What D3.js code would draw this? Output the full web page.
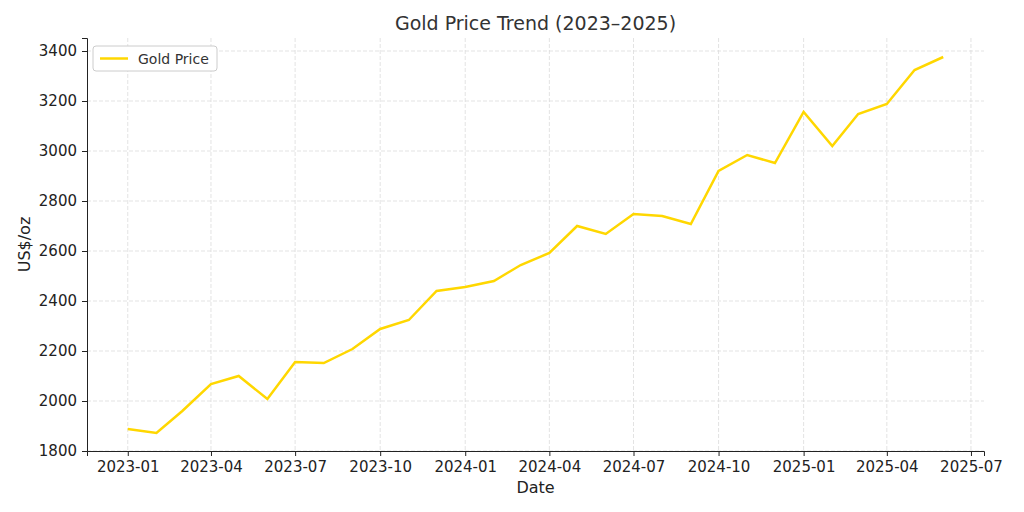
<!DOCTYPE html>
<html>
<head>
<meta charset="utf-8">
<script src="https://cdn.jsdelivr.net/npm/d3@7"></script>
<style>
  body { margin: 0; background: #fff; }
  text { font-family: "DejaVu Sans", sans-serif; }
</style>
</head>
<body>
<svg id="chart" width="1024" height="512"></svg>
<script>
// data
const months = ["2023-01","2023-02","2023-03","2023-04","2023-05","2023-06","2023-07","2023-08","2023-09","2023-10","2023-11","2023-12",
  "2024-01","2024-02","2024-03","2024-04","2024-05","2024-06","2024-07","2024-08","2024-09","2024-10","2024-11","2024-12",
  "2025-01","2025-02","2025-03","2025-04","2025-05","2025-06"];
const prices = [1888,1872,1960,2068,2100,2008,2156,2152,2208,2288,2324,2440,
  2456,2480,2544,2592,2700,2668,2748,2740,2708,2920,2984,2952,
  3156,3020,3148,3188,3324,3376];
const xTicks = ["2023-01","2023-04","2023-07","2023-10","2024-01","2024-04","2024-07","2024-10","2025-01","2025-04","2025-07"];
const yTicks = [1800,2000,2200,2400,2600,2800,3000,3200,3400];

const parse = d3.timeParse("%Y-%m");
const data = months.map((m, i) => ({ date: parse(m), value: prices[i] }));

const mLeft = 87, mRight = 984, mTop = 38, mBottom = 451;
const svg = d3.select("#chart");

// matplotlib-style 5% margin on the x extent
const t0 = data[0].date.getTime(), t1 = data[data.length - 1].date.getTime();
const pad = (t1 - t0) * 0.05;
const x = d3.scaleTime().domain([new Date(t0 - pad), new Date(t1 + pad)]).range([mLeft, mRight]);
const y = d3.scaleLinear().domain([1800, 3452]).range([mBottom, mTop]);

// grid
svg.append("g").selectAll("line").data(xTicks).enter().append("line")
   .attr("x1", d => x(parse(d))).attr("x2", d => x(parse(d)))
   .attr("y1", mTop).attr("y2", mBottom)
   .attr("stroke", "#dcdcdc").attr("stroke-dasharray", "4,2").attr("stroke-width", 0.8);
svg.append("g").selectAll("line").data(yTicks).enter().append("line")
   .attr("x1", mLeft).attr("x2", mRight)
   .attr("y1", d => y(d)).attr("y2", d => y(d))
   .attr("stroke", "#dcdcdc").attr("stroke-dasharray", "4,2").attr("stroke-width", 0.8);

// axes
const xAxis = svg.append("g")
   .attr("transform", `translate(0,${mBottom})`)
   .call(d3.axisBottom(x).tickValues(xTicks.map(parse)).tickFormat(d3.timeFormat("%Y-%m")).tickSizeOuter(0).tickSize(5).tickPadding(5));
const yAxis = svg.append("g")
   .attr("transform", `translate(${mLeft},0)`)
   .call(d3.axisLeft(y).tickValues(yTicks).tickFormat(d3.format("d")).tickSizeOuter(0).tickSize(5).tickPadding(5));
[xAxis, yAxis].forEach(a => {
  a.selectAll("text").attr("font-size", 15).attr("fill", "#222");
  a.selectAll("line,path").attr("stroke", "#222");
});

// line
svg.append("path")
   .datum(data)
   .attr("fill", "none")
   .attr("stroke", "#FFD700")
   .attr("stroke-width", 2.5)
   .attr("d", d3.line().x(d => x(d.date)).y(d => y(d.value)));

// titles
svg.append("text").attr("x", (mLeft + mRight) / 2).attr("y", 30).attr("text-anchor", "middle")
   .attr("font-size", 19).attr("fill", "#333").text("Gold Price Trend (2023–2025)");
svg.append("text").attr("x", (mLeft + mRight) / 2).attr("y", 493).attr("text-anchor", "middle")
   .attr("font-size", 16).attr("fill", "#222").text("Date");
svg.append("text").attr("transform", `translate(30,${(mTop + mBottom) / 2}) rotate(-90)`).attr("text-anchor", "middle")
   .attr("font-size", 16).attr("fill", "#222").text("US$/oz");

// legend
const lg = svg.append("g").attr("transform", "translate(93,46)");
lg.append("rect").attr("width", 124).attr("height", 25).attr("rx", 3)
  .attr("fill", "#fff").attr("stroke", "#ccc");
lg.append("line").attr("x1", 7).attr("x2", 35).attr("y1", 12.5).attr("y2", 12.5)
  .attr("stroke", "#FFD700").attr("stroke-width", 2.5);
lg.append("text").attr("x", 45).attr("y", 17.5).attr("font-size", 14).attr("fill", "#333").text("Gold Price");
</script>
</body>
</html>
